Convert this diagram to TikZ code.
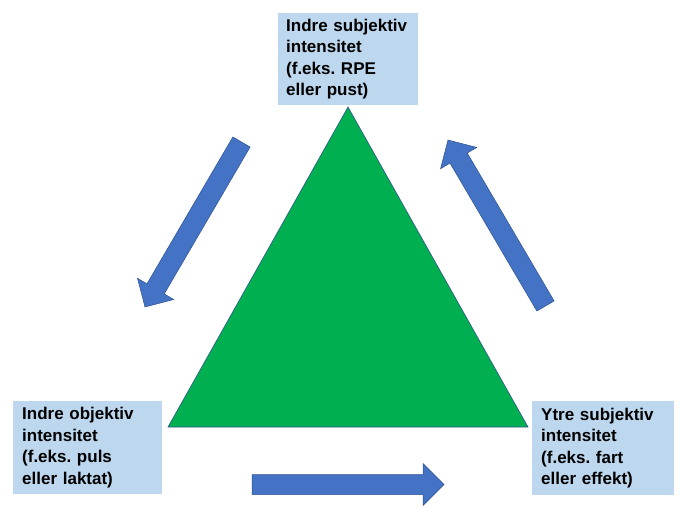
\documentclass[tikz,border=0pt]{standalone}
\usepackage{fontspec}
\setmainfont{Liberation Sans}
\usetikzlibrary{calc}
\frenchspacing
\definecolor{boxblue}{HTML}{BDD7EE}
\definecolor{arrowblue}{HTML}{4472C4}
\definecolor{edgeblue}{HTML}{2F528F}
\definecolor{trigreen}{HTML}{00B050}
\tikzstyle{infobox} = [rectangle, anchor=north west, fill=boxblue, inner xsep=9pt, inner ysep=0pt, align=left, font=\fontsize{17}{21.5}\selectfont\bfseries]
\tikzstyle{flowarrow} = [fill=arrowblue, draw=edgeblue, line width=0.5pt]
\tikzstyle{triangle} = [fill=trigreen, draw=edgeblue, line width=0.6pt]

% block arrow from tail #1 to tip #2
\newcommand{\blockarrow}[2]{%
	\coordinate (bt) at (#1);
	\coordinate (bp) at (#2);
	\coordinate (bh) at ($(bp)!21pt!(bt)$);
	\draw[flowarrow] ($(bt)!10pt!90:(bp)$) -- ($(bh)!10pt!-90:(bt)$) -- ($(bh)!21pt!-90:(bt)$) -- (bp)
		-- ($(bh)!21pt!90:(bt)$) -- ($(bh)!10pt!90:(bt)$) -- ($(bt)!10pt!-90:(bp)$) -- cycle;
}

\begin{document}
\begin{tikzpicture}[x=1pt, y=-1pt]
	\useasboundingbox (0,0) rectangle (686,508);
	
	\coordinate (apex) at (348,107);
	\coordinate (right) at (528,427);
	\coordinate (left) at (168,427);
	\draw[triangle] (apex) -- (right) -- (left) -- cycle;
	
	\node (top) [infobox, text width=124pt, minimum width=139pt, minimum height=92pt, inner xsep=8pt] at (278,13) {Indre subjektiv\\intensitet\\(f.eks. RPE\\eller pust)};
	
	\node (objective) [infobox, text width=131pt, minimum width=149pt, minimum height=93pt] at (13,401) {Indre objektiv\\intensitet\\(f.eks. puls\\eller laktat)};
	
	\node (outer) [infobox, text width=124pt, minimum width=142pt, minimum height=94pt] at (532,401) {Ytre subjektiv\\intensitet\\(f.eks. fart\\eller effekt)};
	
	%
	
	\blockarrow{241.5,142}{145,307}
	\blockarrow{545.5,306}{448,140}
	\blockarrow{252,484.5}{444,484.5}
	
\end{tikzpicture}
\end{document}
